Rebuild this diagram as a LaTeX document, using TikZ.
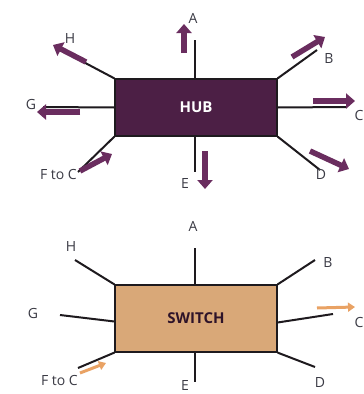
\documentclass[tikz,border=0pt]{standalone}
\usepackage{fontspec}
\setmainfont{Open Sans}
\usetikzlibrary{arrows.meta}
\definecolor{hubfill}{HTML}{4C1F45}
\definecolor{purparrow}{HTML}{6A2D5F}
\definecolor{swfill}{HTML}{D9A878}
\definecolor{orarrow}{HTML}{E9A264}
\definecolor{wire}{HTML}{1E1A1E}
\definecolor{labelcol}{HTML}{3A3A44}
\tikzset{
  wireline/.style={draw=wire, line width=2pt},
  lbl/.style={text=labelcol, font=\fontsize{14}{14}\selectfont, inner sep=0pt},
  fatarrow/.style={draw=purparrow, line width=5.5pt, -{Triangle[length=9pt,width=15pt]}},
  thinarrow/.style={draw=orarrow, line width=3pt, -{Triangle[length=7pt,width=9pt]}},
  boxnode/.style={draw=wire, line width=1.2pt, minimum width=162pt, minimum height=57pt, inner sep=0pt}
}
\begin{document}
\begin{tikzpicture}[x=1pt,y=-1pt]
\useasboundingbox[fill=white] (0,0) rectangle (364,394);
% ---------- HUB ----------
\node[boxnode, fill=hubfill, text=white, font=\fontsize{15}{15}\selectfont\bfseries] (hub) at (196,107.5) {HUB};
\coordinate (hA) at (195,40);
\coordinate (hH) at (57,48);
\coordinate (hB) at (317,50);
\coordinate (hG) at (43,107);
\coordinate (hC) at (347,107);
\coordinate (hF) at (78,172);
\coordinate (hE) at (195,172);
\coordinate (hD) at (320,170);
\draw[wireline] ([xshift=-1pt]hub.north) -- (hA);
\draw[wireline] (hub.north west) -- (hH);
\draw[wireline] (hub.north east) -- (hB);
\draw[wireline] (hub.west) -- (hG);
\draw[wireline] (hub.east) -- (hC);
\draw[wireline] (hub.south west) -- (hF);
\draw[wireline] ([xshift=-1pt]hub.south) -- (hE);
\draw[wireline] (hub.south east) -- (hD);
% arrows
\coordinate (haS) at (184,53); \coordinate (haT) at (184,24);
\draw[fatarrow] (haS) -- (haT);
\coordinate (hhS) at (86,62); \coordinate (hhT) at (53,45);
\draw[fatarrow] (hhS) -- (hhT);
\coordinate (hbS) at (292,57); \coordinate (hbT) at (325,37);
\draw[fatarrow] (hbS) -- (hbT);
\coordinate (hgS) at (80,112); \coordinate (hgT) at (37,112);
\draw[fatarrow] (hgS) -- (hgT);
\coordinate (hcS) at (313,101); \coordinate (hcT) at (355,101);
\draw[fatarrow] (hcS) -- (hcT);
\coordinate (hfS) at (80,171); \coordinate (hfT) at (112,154);
\draw[fatarrow] (hfS) -- (hfT);
\coordinate (heS) at (205,151); \coordinate (heT) at (205,189);
\draw[fatarrow] (heS) -- (heT);
\coordinate (hdS) at (310,151); \coordinate (hdT) at (349,169);
\draw[fatarrow] (hdS) -- (hdT);
% labels
\node[lbl] (lhA) at (193,18) {A};
\node[lbl] (lhH) at (70,39) {H};
\node[lbl] (lhB) at (329,58) {B};
\node[lbl] (lhG) at (31,104) {G};
\node[lbl] (lhC) at (359,115) {C};
\node[lbl, anchor=east] (lhF) at (77,174) {F to C};
\node[lbl] (lhE) at (185,183) {E};
\node[lbl] (lhD) at (321,174) {D};
% ---------- SWITCH ----------
\node[boxnode, minimum height=67pt, fill=swfill, text=hubfill!60!black, font=\fontsize{15}{15}\selectfont\bfseries] (sw) at (196,318.5) {SWITCH};
\coordinate (sA) at (195,248);
\coordinate (sH) at (75,260);
\coordinate (sB) at (315,260);
\coordinate (sG) at (60,315);
\coordinate (sC) at (333,314);
\coordinate (sF) at (78,368);
\coordinate (sE) at (195,382);
\coordinate (sD) at (315,367);
\draw[wireline] ([xshift=-1pt]sw.north) -- (sA);
\draw[wireline] (sw.north west) -- (sH);
\draw[wireline] (sw.north east) -- (sB);
\draw[wireline] ([yshift=-3pt]sw.west) -- (sG);
\draw[wireline] ([yshift=-4pt]sw.east) -- (sC);
\draw[wireline] (sw.south west) -- (sF);
\draw[wireline] ([xshift=-1pt]sw.south) -- (sE);
\draw[wireline] (sw.south east) -- (sD);
\coordinate (scS) at (317,308); \coordinate (scT) at (355,307);
\draw[thinarrow] (scS) -- (scT);
\coordinate (sfS) at (80,373); \coordinate (sfT) at (106,363);
\draw[thinarrow] (sfS) -- (sfT);
\node[lbl] (lsA) at (193,226) {A};
\node[lbl] (lsH) at (71,246) {H};
\node[lbl] (lsB) at (328,262) {B};
\node[lbl] (lsG) at (33,313) {G};
\node[lbl] (lsC) at (359,322) {C};
\node[lbl, anchor=east] (lsF) at (78,380) {F to C};
\node[lbl] (lsE) at (185,385) {E};
\node[lbl] (lsD) at (320,382) {D};
\end{tikzpicture}
\end{document}
